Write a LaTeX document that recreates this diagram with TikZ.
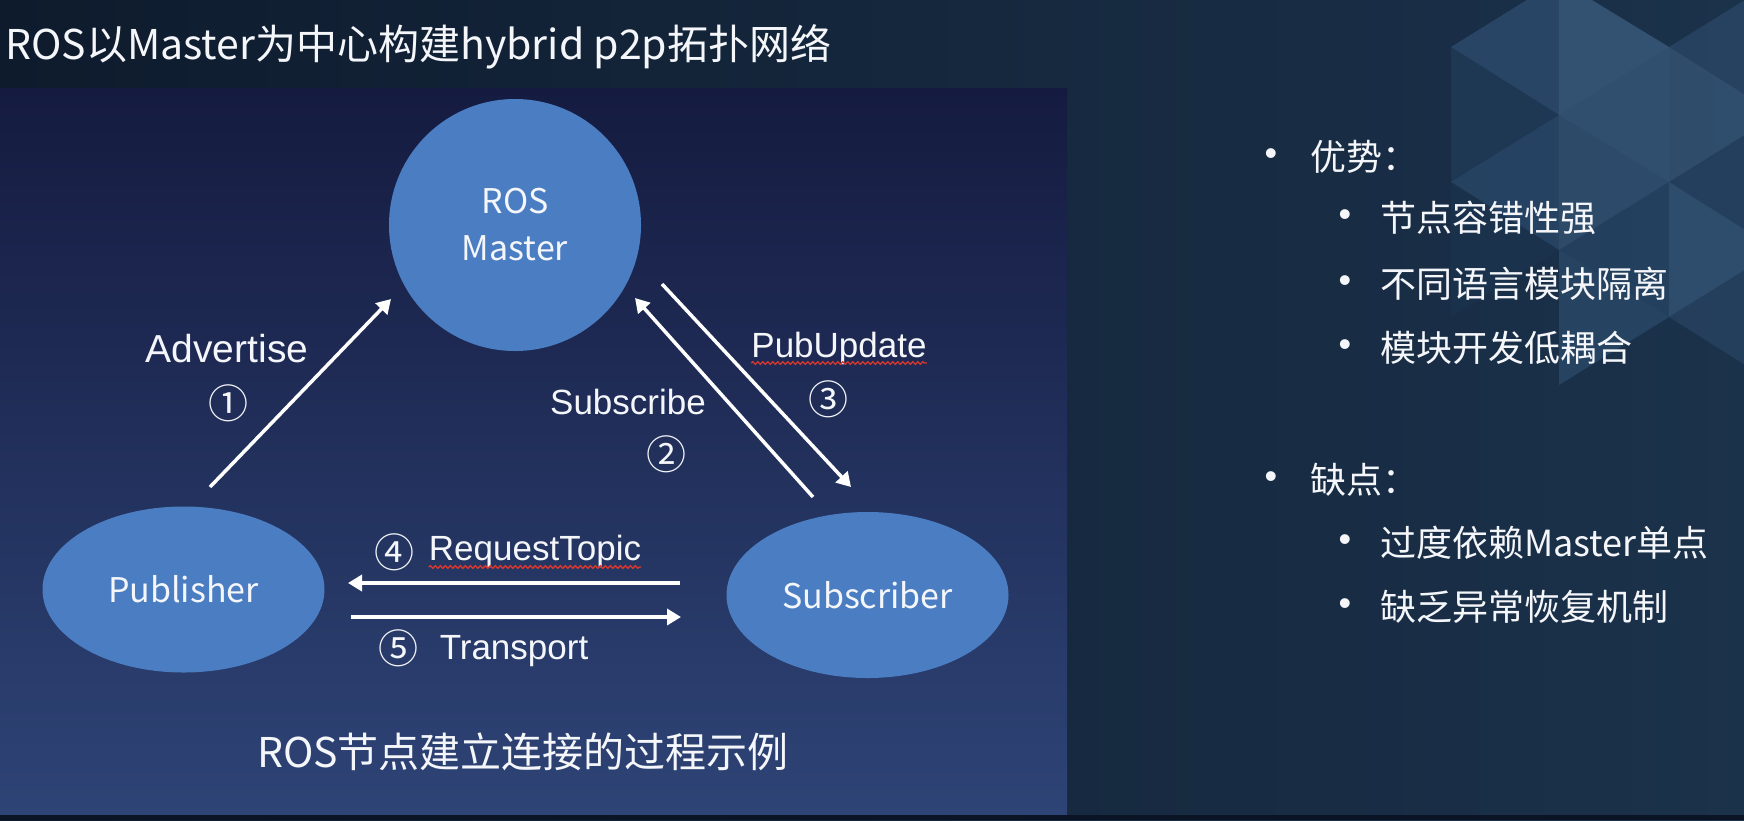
\documentclass[tikz,border=0pt]{standalone}
\usepackage{fontspec}
\setmainfont{Noto Sans CJK SC}
\newfontfamily\cjk{Noto Sans CJK SC}
\newfontfamily\arialf{Liberation Sans}
\usetikzlibrary{arrows.meta,decorations.pathmorphing,shapes.geometric,calc}
\definecolor{nodeblue}{HTML}{4A7DC2}
\definecolor{panTop}{HTML}{151B40}
\definecolor{panBot}{HTML}{2E4476}
\definecolor{bgL}{HTML}{0E1B2D}
\definecolor{bgR}{HTML}{1B324B}
\definecolor{botdark}{HTML}{0A1424}
\definecolor{wavyred}{HTML}{D8382E}
\definecolor{txt}{HTML}{F4F6FA}
\definecolor{triA}{HTML}{34557A}
\definecolor{triB}{HTML}{223D5C}
\definecolor{triC}{HTML}{2E5074}
\definecolor{triD}{HTML}{1C3450}
\definecolor{triF}{HTML}{45688C}
\definecolor{triG}{HTML}{3F6286}
\definecolor{triH}{HTML}{3A5C80}
\definecolor{triI}{HTML}{2A4A6C}
\definecolor{triJ}{HTML}{2F5072}
\definecolor{triK}{HTML}{2E4D6E}
\definecolor{triL}{HTML}{3D5F82}
\definecolor{triM}{HTML}{2A486A}
\definecolor{triN}{HTML}{3C5E82}
\definecolor{triO}{HTML}{2A4868}
\begin{document}
\begin{tikzpicture}[x=1pt,y=-1pt,
  nodeshape/.style={fill=nodeblue,text=txt,inner sep=0pt,align=center,font=\cjk\fontsize{34}{47}\selectfont},
  lbl/.style={text=txt,inner sep=0pt,anchor=base,font=\arialf\fontsize{35}{35}\selectfont},
  num/.style={text=txt,inner sep=0pt,font=\cjk\fontsize{40}{40}\selectfont},
  conn/.style={draw=white,line width=3.5pt,-{Triangle[length=14pt,width=16pt]}},
  wavy/.style={draw=wavyred,line width=1.3pt,decorate,decoration={snake,segment length=5pt,amplitude=1.3pt}},
  cjktext/.style={text=txt,inner sep=0pt,anchor=west,font=\cjk\fontsize{36}{36}\selectfont},
  bullet/.style={text=txt,inner sep=0pt,font=\arialf\fontsize{36}{36}\selectfont}]
\useasboundingbox (0,0) rectangle (1744,820);
% background
\shade[left color=bgL,right color=bgR] (0,0) rectangle (1744,820);
% triangle pattern (top right)
\begin{scope}[opacity=0.6]
\fill[triA] (1451,47) -- (1559,-20) -- (1559,115) -- cycle;
\fill[triB] (1559,115) -- (1451,47) -- (1451,182) -- cycle;
\fill[triC] (1451,182) -- (1559,115) -- (1559,250) -- cycle;
\fill[triD] (1559,250) -- (1451,182) -- (1451,317) -- cycle;
\fill[triF] (1669,47) -- (1559,-20) -- (1559,115) -- cycle;
\fill[triG] (1559,115) -- (1669,47) -- (1669,182) -- cycle;
\fill[triH] (1669,182) -- (1559,115) -- (1559,250) -- cycle;
\fill[triI] (1559,250) -- (1669,182) -- (1669,317) -- cycle;
\fill[triJ] (1669,317) -- (1559,250) -- (1559,385) -- cycle;
\fill[triK] (1669,47) -- (1777,-20) -- (1777,115) -- cycle;
\fill[triL] (1777,115) -- (1669,47) -- (1669,182) -- cycle;
\fill[triM] (1669,182) -- (1777,115) -- (1777,250) -- cycle;
\fill[triN] (1777,250) -- (1669,182) -- (1669,317) -- cycle;
\fill[triO] (1669,317) -- (1777,250) -- (1777,385) -- cycle;
\end{scope}
% diagram panel
\shade[top color=panTop,bottom color=panBot] (0,88) rectangle (1067,815);
\fill[botdark] (0,815) rectangle (1744,820);
% title
\node[text=txt,inner sep=0pt,anchor=west,font=\cjk\fontsize{41}{41}\selectfont] (title) at (5,47) {ROS以Master为中心构建hybrid p2p拓扑网络};
% nodes
\node[nodeshape,circle,minimum size=252pt] (master) at (515,225) {ROS\\Master};
\node[nodeshape,ellipse,minimum width=282pt,minimum height=166pt] (pub) at (183.5,589.5) {Publisher};
\node[nodeshape,ellipse,minimum width=282pt,minimum height=166pt] (sub) at (867.5,595) {Subscriber};
% arrow end points
\coordinate (a1s) at (210,487);
\coordinate (a1e) at (391,299);
\coordinate (a2s) at (813,497);
\coordinate (a2e) at (635,298);
\coordinate (a3s) at (662,284);
\coordinate (a3e) at (851,487);
\coordinate (a4s) at (680,583);
\coordinate (a4e) at (348,583);
\coordinate (a5s) at (351,617);
\coordinate (a5e) at (681,617);
\draw[conn] (a1s) -- (a1e);
\draw[conn] (a2s) -- (a2e);
\draw[conn] (a3s) -- (a3e);
\draw[conn] (a4s) -- (a4e);
\draw[conn] (a5s) -- (a5e);
% labels
\node[lbl,font=\arialf\fontsize{39}{39}\selectfont] (advl) at (227,362) {Advertise};
\node[num] (n1) at (228,403) {①};
\node[lbl] (subl) at (628,414) {Subscribe};
\node[num] (n2) at (666,454) {②};
\node[lbl] (publ) at (839,357) {PubUpdate};
\node[num] (n3) at (828,399) {③};
\draw[wavy] ($(publ.base west)+(0,6)$) -- ($(publ.base east)+(0,6)$);
\node[num] (n4) at (394,552) {④};
\node[lbl] (reql) at (535,560) {RequestTopic};
\draw[wavy] ($(reql.base west)+(0,7)$) -- ($(reql.base east)+(0,7)$);
\node[num] (n5) at (398,648) {⑤};
\node[lbl] (trl) at (514,659) {Transport};
% caption
\node[text=txt,inner sep=0pt,font=\cjk\fontsize{41}{41}\selectfont] (cap) at (523,752) {ROS节点建立连接的过程示例};
% right bullets
\node[bullet] (b1) at (1271,157) {•};
\node[cjktext] (t1) at (1310,157) {优势：};
\node[bullet] (b11) at (1345,218) {•};
\node[cjktext] (t11) at (1380,218) {节点容错性强};
\node[bullet] (b12) at (1345,284) {•};
\node[cjktext] (t12) at (1380,284) {不同语言模块隔离};
\node[bullet] (b13) at (1345,348) {•};
\node[cjktext] (t13) at (1380,348) {模块开发低耦合};
\node[bullet] (b2) at (1271,480) {•};
\node[cjktext] (t2) at (1310,480) {缺点：};
\node[bullet] (b21) at (1345,543) {•};
\node[cjktext] (t21) at (1380,543) {过度依赖Master单点};
\node[bullet] (b22) at (1345,607) {•};
\node[cjktext] (t22) at (1380,607) {缺乏异常恢复机制};
\end{tikzpicture}
\end{document}
